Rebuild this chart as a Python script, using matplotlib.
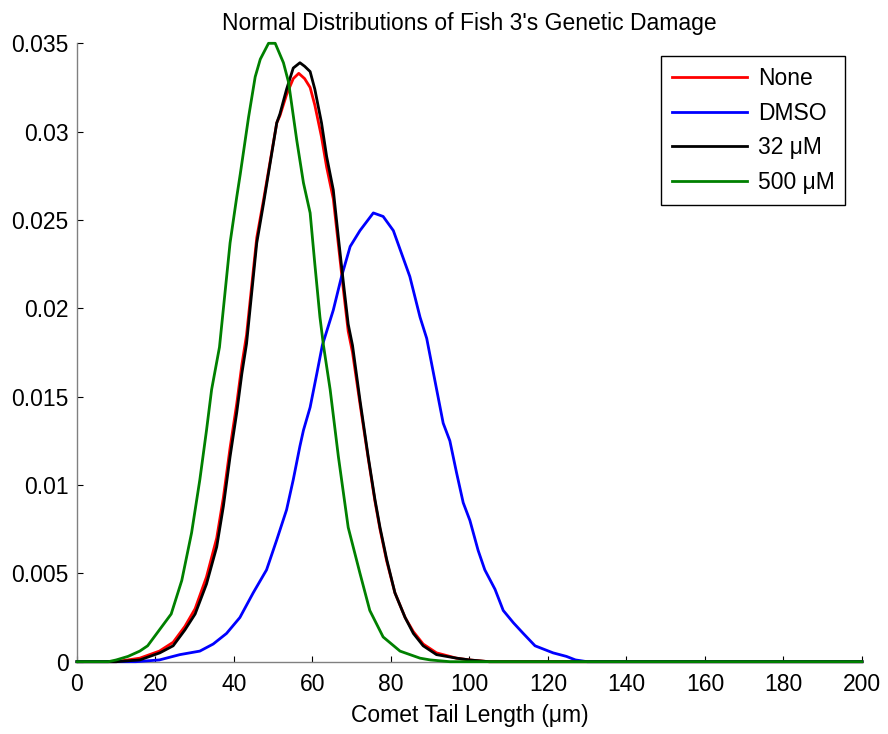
import matplotlib
matplotlib.use("Agg")
import matplotlib.pyplot as plt

plt.rcParams['font.family'] = ['Liberation Sans', 'DejaVu Sans']

# values
none_x = [0, 10, 16, 21, 24.5, 27.5, 30.1, 33, 35.6, 37.3, 39, 40.7, 42, 43.2, 45.8, 47.5, 49.2,
          50.9, 51.7, 53.4, 55.1, 56.5, 58, 59.4, 60.6, 62.3, 63.6, 65.3, 66.6, 67.9, 69.1, 70.2,
          72.1, 74.2, 75.9, 77.2, 78.9, 81, 83.6, 85.7, 88.2, 91.6, 96.7, 100, 105, 200]
none_y = [0, 0, 0.0002, 0.0006, 0.0011, 0.0020, 0.0030, 0.0048, 0.0070, 0.0093, 0.0121, 0.0146,
          0.0168, 0.0185, 0.0240, 0.0261, 0.0283, 0.0305, 0.0309, 0.0321, 0.0330, 0.0333, 0.0330,
          0.0325, 0.0315, 0.0297, 0.0280, 0.0262, 0.0236, 0.0210, 0.0187, 0.0175, 0.0146, 0.0115,
          0.0091, 0.0075, 0.0057, 0.0039, 0.0025, 0.0017, 0.0010, 0.0005, 0.0002, 0.0001, 0, 0]

dmso_x = [0, 15, 21, 26.2, 31.3, 34.7, 38.1, 41.5, 44.9, 48.3, 50.9, 53.4, 55.1, 56.8, 57.7, 59.4,
          61.1, 62.5, 65.3, 67.4, 69.6, 72.1, 75.5, 78, 80.6, 82.7, 84.8, 87.4, 89.1, 91.2, 93.3,
          95, 96.7, 98.4, 100.1, 102.2, 103.9, 106.5, 108.6, 111.2, 113.7, 116.7, 121.3, 124.7,
          127, 130, 200]
dmso_y = [0, 0, 0.0001, 0.0004, 0.0006, 0.0010, 0.0016, 0.0025, 0.0039, 0.0052, 0.0069, 0.0086,
          0.0103, 0.0122, 0.0131, 0.0144, 0.0163, 0.0179, 0.0199, 0.0218, 0.0235, 0.0244, 0.0254,
          0.0252, 0.0244, 0.0231, 0.0218, 0.0195, 0.0183, 0.0159, 0.0135, 0.0125, 0.0107, 0.0090,
          0.0080, 0.0063, 0.0052, 0.0041, 0.0029, 0.0022, 0.0016, 0.0009, 0.0005, 0.0003, 0.0001,
          0, 0]

um32_x = [0, 10, 16, 21.1, 24.5, 27.5, 30.1, 33, 35.6, 37.3, 39, 40.7, 42, 43.2, 45.8, 47.5, 49.2,
          50.9, 51.7, 53.4, 55.1, 56.8, 58, 59.4, 60.6, 62.3, 63.6, 65.3, 66.6, 67.9, 69.1, 70.2,
          72.1, 74.2, 75.9, 77.2, 78.9, 81, 83.6, 85.7, 88.2, 91.6, 96.7, 100, 105, 200]
um32_y = [0, 0, 0.0001, 0.0005, 0.0009, 0.0018, 0.0027, 0.0044, 0.0065, 0.0088, 0.0116, 0.0141,
          0.0163, 0.0180, 0.0237, 0.0259, 0.0282, 0.0305, 0.0310, 0.0324, 0.0336, 0.0339, 0.0337,
          0.0334, 0.0324, 0.0305, 0.0286, 0.0267, 0.0240, 0.0214, 0.0191, 0.0179, 0.0148, 0.0116,
          0.0092, 0.0076, 0.0058, 0.0039, 0.0025, 0.0016, 0.0009, 0.0004, 0.0002, 0.0001, 0, 0]

um500_x = [0, 8, 10, 13, 16, 18, 20, 24, 26.7, 29.2, 31.3, 33, 34.3, 36.3, 39, 40.7, 41.6, 43.7,
           45.4, 46.7, 48.8, 50.5, 52.6, 53.9, 56, 57.7, 59.4, 60.6, 61.9, 62.8, 64.5, 66.6, 69.1,
           72.1, 74.6, 78, 82.3, 87.4, 90, 95, 200]
um500_y = [0, 0, 0.0001, 0.0003, 0.0006, 0.0009, 0.0015, 0.0027, 0.0046, 0.0073, 0.0103, 0.0131,
           0.0154, 0.0178, 0.0237, 0.0263, 0.0276, 0.0308, 0.0331, 0.0341, 0.0350, 0.0350, 0.0339,
           0.0328, 0.0295, 0.0271, 0.0254, 0.0225, 0.0195, 0.0179, 0.0154, 0.0116, 0.0076, 0.0050,
           0.0029, 0.0014, 0.0006, 0.0002, 0.0001, 0, 0]

labels = ['None', 'DMSO', '32 \u03bcM', '500 \u03bcM']
colors = ['#ff0000', '#0000ff', '#000000', '#008000']
x_ticks = [0, 20, 40, 60, 80, 100, 120, 140, 160, 180, 200]
y_ticks = [0, 0.005, 0.01, 0.015, 0.02, 0.025, 0.03, 0.035]
y_tick_labels = ['0', '0.005', '0.01', '0.015', '0.02', '0.025', '0.03', '0.035']

fig = plt.figure(figsize=(8.88, 7.34), dpi=100)
ax = fig.add_axes([0.0867, 0.0985, 0.884, 0.8425])

series = [(none_x, none_y), (dmso_x, dmso_y), (um32_x, um32_y), (um500_x, um500_y)]
for (xs, ys), lab, col in zip(series, labels, colors):
    ax.plot(xs, ys, color=col, linewidth=2, label=lab, clip_on=False, zorder=3)

ax.set_xlim(0, 200)
ax.set_ylim(0, 0.035)
ax.set_xticks(x_ticks)
ax.set_yticks(y_ticks)
ax.set_yticklabels(y_tick_labels)
ax.tick_params(direction='in', length=4, width=0.8, colors='k', labelsize=16.5)
ax.tick_params(axis='x', pad=8)
ax.tick_params(axis='y', pad=6)

for side in ['top', 'right']:
    ax.spines[side].set_visible(False)
for side in ['left', 'bottom']:
    ax.spines[side].set_color('#808080')
    ax.spines[side].set_linewidth(1.0)

ax.set_title("Normal Distributions of Fish 3's Genetic Damage", fontsize=16.5, pad=1, y=1.02)
ax.set_xlabel('Comet Tail Length (\u03bcm)', fontsize=16.5, labelpad=6)

leg = ax.legend(loc='upper right', bbox_to_anchor=(0.978, 0.979), borderaxespad=0,
                fontsize=16.5, handlelength=3.3, handletextpad=0.45, labelspacing=0.52,
                fancybox=False, framealpha=1, borderpad=0.45)
leg.get_frame().set_edgecolor('k')
leg.get_frame().set_linewidth(1.0)

fig.savefig('out.png', dpi=100)
